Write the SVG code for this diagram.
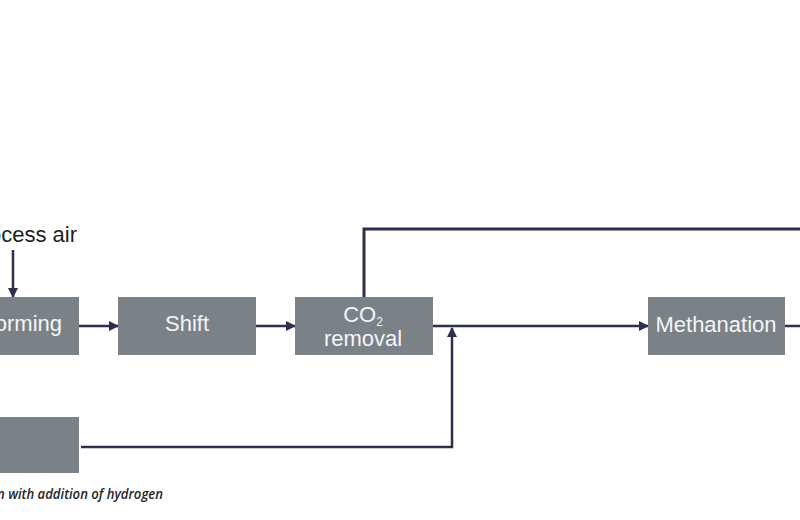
<svg xmlns="http://www.w3.org/2000/svg" width="800" height="520" viewBox="0 0 800 520">
  <style>
    .box { fill: #7a8288; }
    .lbl { fill: #f4f5f6; font-family: "Liberation Sans", Arial, sans-serif; font-size: 22px; text-anchor: middle; }
    .flow { fill: none; stroke: #2c2f4d; stroke-width: 2.5; }
    .note { fill: #1e1e1e; font-family: "Liberation Sans", Arial, sans-serif; font-size: 22px; }
    .cap { fill: #262626; font-family: "Open Sans", "Liberation Sans", sans-serif; font-style: italic; font-weight: 600; font-size: 14px; }
  </style>
  <defs>
    <marker id="arrow" viewBox="0 0 10 10" refX="9" refY="5" markerWidth="4" markerHeight="4" orient="auto" markerUnits="strokeWidth">
      <path d="M0,0 L10,5 L0,10 z" fill="#2c2f4d"/>
    </marker>
  </defs>
  <rect width="800" height="520" fill="#ffffff"/>

  <!-- process flow lines -->
  <g id="connectors">
    <line class="flow" x1="13" y1="250" x2="13" y2="297" marker-end="url(#arrow)"/>
    <line class="flow" x1="79" y1="326" x2="118" y2="326" marker-end="url(#arrow)"/>
    <line class="flow" x1="256" y1="326" x2="295" y2="326" marker-end="url(#arrow)"/>
    <polyline class="flow" points="364,298 364,229 800,229" style="stroke-width:3"/>
    <line class="flow" x1="433" y1="326" x2="648" y2="326" marker-end="url(#arrow)"/>
    <polyline class="flow" points="81,447 452,447 452,328" marker-end="url(#arrow)"/>
    <line class="flow" x1="785" y1="326" x2="800" y2="326"/>
  </g>

  <text class="note" x="77" y="242" text-anchor="end">Process air</text>

  <g id="reforming">
    <rect class="box" x="-10" y="297" width="89" height="58"/>
    <text class="lbl" x="62" y="331" style="text-anchor:end">Reforming</text>
  </g>

  <g id="shift">
    <rect class="box" x="118" y="297" width="138" height="58"/>
    <text class="lbl" x="187" y="331">Shift</text>
  </g>

  <g id="co2-removal">
    <rect class="box" x="295" y="297" width="138" height="58"/>
    <text class="lbl" x="363" y="322">CO<tspan font-size="12" dy="4">2</tspan></text>
    <text class="lbl" x="363" y="346">removal</text>
  </g>

  <g id="methanation">
    <rect class="box" x="648" y="297" width="137" height="58"/>
    <text class="lbl" x="716" y="332">Methanation</text>
  </g>

  <g id="hydrogen-source">
    <rect class="box" x="-10" y="417" width="89" height="56"/>
  </g>

  <text class="cap" x="-3" y="499" textLength="166" lengthAdjust="spacingAndGlyphs">n with addition of hydrogen</text>
</svg>
